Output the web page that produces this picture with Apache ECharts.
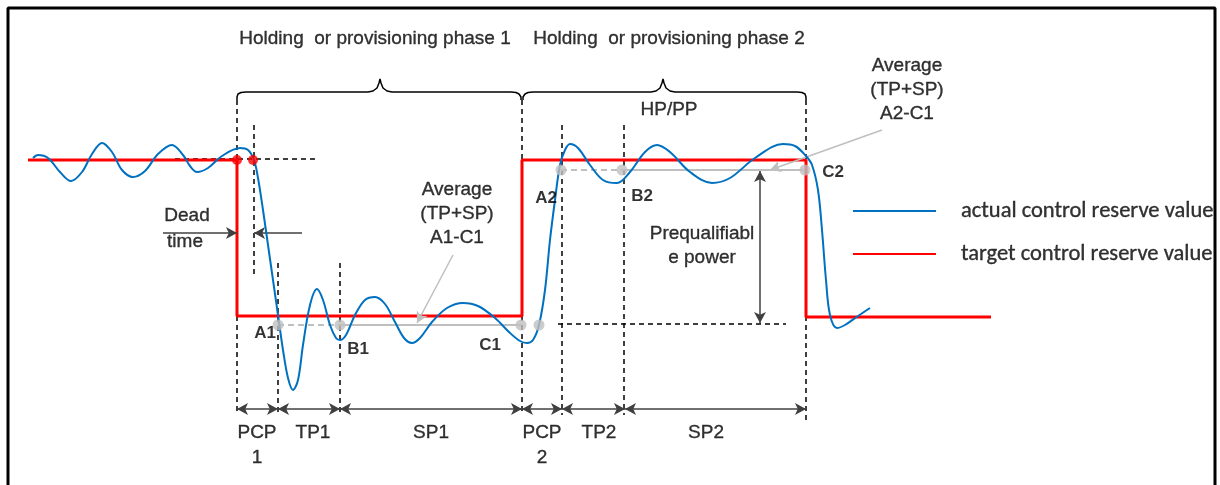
<!DOCTYPE html>
<html>
<head>
<meta charset="utf-8">
<script src="https://cdn.jsdelivr.net/npm/echarts@6/dist/echarts.min.js"></script>
<style>
html, body { margin: 0; padding: 0; background: #fff; }
#chart { width: 1220px; height: 485px; }
</style>
</head>
<body>
<div id="chart"></div>
<script>
// diagram units follow the figure: x to the right, y downwards (axis is inverted)
const actualValue = [
  [33, 158], [38, 155], [48, 158], [60, 172], [71, 181], [82, 172], [92, 154], [102, 143],
  [112, 152], [122, 170], [133, 177], [145, 171], [158, 154], [172, 145], [183, 155], [190, 166],
  [197, 172], [208, 168], [222, 156], [240, 148], [248, 150], [254, 160], [258, 178], [263, 210],
  [268, 245], [273, 280], [278, 315], [283, 350], [288, 378], [293, 390], [298, 380], [303, 345],
  [310, 305], [317, 289], [323, 300], [330, 325], [336, 338], [340, 340], [346, 335], [355, 315],
  [365, 300], [375, 297], [385, 304], [395, 322], [404, 338], [412, 343], [420, 338], [432, 322],
  [447, 308], [463, 303], [478, 306], [495, 318], [510, 333], [520, 341], [527, 343], [533, 340],
  [539, 325], [545, 290], [550, 240], [555, 200], [560, 165], [565, 150], [570, 144], [578, 148],
  [590, 165], [603, 180], [617, 183], [630, 172], [645, 152], [657, 145], [670, 152], [690, 172],
  [712, 183], [730, 178], [755, 158], [783, 144], [795, 146], [806, 156], [812, 165], [818, 190],
  [822, 230], [826, 280], [830, 315], [837, 328], [845, 325], [858, 316], [870, 308]
]
const targetValue = [[28, 160], [237, 160], [237, 316], [522, 316], [522, 160], [806, 160], [806, 317], [991, 317]]
const deadTimeDots = [[237, 160], [253, 160]]
const milestoneDots = [[278, 325], [340, 325], [521, 325], [539, 325], [561, 170], [622, 170], [805, 170]]
const averageDashed = [[[278, 325], [340, 325]], [[561, 170], [622, 170]]]
const averageSolid = [[[340, 325], [521, 325]], [[622, 170], [805, 170]]]
const guideLines = [
  [[237, 100], [237, 415]], [[254, 125], [254, 278]], [[278, 263], [278, 415]], [[340, 263], [340, 415]],
  [[522, 100], [522, 415]], [[562, 125], [562, 415]], [[624, 125], [624, 415]], [[806, 100], [806, 420]],
  [[175, 159], [317, 159]], [[558, 324], [786, 324]]
]
const braces = [
  [[237, 100], [237, 97], [238, 94], [241, 92.5], [246, 92], [368, 92], [373, 91], [377, 88], [379, 83], [380, 79],
    [381, 83], [383, 88], [387, 91], [392, 92], [511, 92], [516, 92.5], [519, 94], [521, 97], [521, 100]],
  [[523, 100], [523, 97], [525, 94], [528, 92.5], [533, 92], [651, 92], [656, 91], [660, 88], [662, 83], [663, 79],
    [664, 83], [666, 88], [670, 91], [675, 92], [797, 92], [802, 92.5], [805, 94], [806, 97], [806, 100]]
]
const periodBounds = [237, 278, 340, 522, 562, 625, 806]
const periodLabels = ['PCP\n1', 'TP1', 'SP1', 'PCP\n2', 'TP2', 'SP2']
const periodLabelX = [257, 313, 431, 542, 599, 706]
const deadTimeArrows = [[[163, 233], [237, 233]], [[302, 233], [254, 233]]]
const powerArrow = [[760, 171], [760, 323]]
const averageArrows = [[[453, 255], [417, 323]], [[882, 130], [770, 170]]]
const pointLabels = [['A1', 265, 333], ['B1', 358, 349], ['C1', 490, 345], ['A2', 546, 198], ['B2', 642, 196], ['C2', 833, 172]]
const notes = [
  ['Holding  or provisioning phase 1', 375, 39],
  ['Holding  or provisioning phase 2', 669, 39],
  ['HP/PP', 669, 110],
  ['Average\n(TP+SP)\nA1-C1', 457, 214],
  ['Average\n(TP+SP)\nA2-C1', 907, 90],
  ['Prequalifiabl\ne power', 702, 246],
  ['Dead', 187, 216],
  ['time', 185, 242]
]
const legendNames = ['actual control reserve value', 'target control reserve value']
const legendY = [211, 254]
const frame = [[[8, 485], [8, 8], [1215, 8], [1215, 485]]]

const BLUE = '#0070c0'
const RED = '#ff0000'
const GREY = '#bfbfbf'
const DARK = '#404040'

const chart = echarts.init(document.getElementById('chart'), null, { renderer: 'canvas' })

const series = []

function path(data, color, width, type, z) {
  series.push({
    type: 'line', data: data, symbol: 'none', silent: true, z: z || 2,
    lineStyle: { color: color, width: width, type: type || 'solid', cap: 'butt' }
  })
}

function arrows(pairs, color, width, both) {
  series.push({
    type: 'line', data: [], silent: true, z: 4,
    markLine: {
      silent: true, animation: false,
      symbol: both ? ['arrow', 'arrow'] : ['none', 'arrow'],
      symbolSize: [9, 11],
      label: { show: false },
      lineStyle: { color: color, width: width, type: 'solid' },
      emphasis: { disabled: true },
      data: pairs.map(p => [{ coord: p[0] }, { coord: p[1] }])
    }
  })
}

function texts(items, style, z) {
  series.push({
    type: 'scatter', symbolSize: 0, silent: true, z: z || 6,
    data: items.map(t => ({ value: [t[1], t[2]], name: t[0] })),
    label: Object.assign({
      show: true, position: 'inside', align: 'center', verticalAlign: 'middle',
      formatter: p => p.name, color: '#000', textBorderColor: '#000', textBorderWidth: 0.35
    }, style)
  })
}

// frame (on top, so the legend text runs under the right edge)
frame.forEach(f => path(f, '#000', 3, 'solid', 20))

// dashed guides and braces
guideLines.forEach(g => path(g, '#000', 1.5, [5, 4], 2))
braces.forEach(b => path(b, '#000', 1.5, 'solid', 2))

// target and actual values
path(targetValue, RED, 3, 'solid', 3)
series.push({
  type: 'line', data: actualValue, symbol: 'none', smooth: 0.35, silent: true, z: 5,
  lineStyle: { color: BLUE, width: 2 }
})

// averages
averageDashed.forEach(a => path(a, GREY, 2, [6, 4], 3))
averageSolid.forEach(a => path(a, GREY, 2, 'solid', 3))
series.push({
  type: 'scatter', data: milestoneDots, symbolSize: 11, silent: true, z: 6,
  itemStyle: { color: GREY }
})
series.push({
  type: 'scatter', data: deadTimeDots, symbolSize: 10, silent: true, z: 6,
  itemStyle: { color: RED }
})

// arrows
const periodPairs = []
for (let i = 0; i < periodBounds.length - 1; i++) {
  periodPairs.push([[periodBounds[i], 409], [periodBounds[i + 1], 409]])
}
arrows(periodPairs, DARK, 1.5, true)
arrows(deadTimeArrows, DARK, 1.5, false)
arrows([powerArrow], DARK, 1.5, true)
arrows(averageArrows, GREY, 1.5, false)

// legend
legendY.forEach((y, i) => path([[853, y], [936, y]], i === 0 ? BLUE : RED, 2, 'solid', 3))
texts(legendNames.map((n, i) => [n, 961, legendY[i]]),
  { align: 'left', fontFamily: 'Carlito, Lato, sans-serif', fontSize: 22.5 })

// text
texts(notes, { fontFamily: 'Liberation Sans, Arial, sans-serif', fontSize: 19, lineHeight: 24 })
texts(pointLabels, { fontFamily: 'Liberation Sans, Arial, sans-serif', fontSize: 17, fontWeight: 'bold', textBorderWidth: 0 })
texts(periodLabels.map((l, i) => [l, periodLabelX[i], l.indexOf('\n') > 0 ? 445 : 433]),
  { fontFamily: 'Liberation Sans, Arial, sans-serif', fontSize: 19, lineHeight: 25 })

chart.setOption({
  animation: false,
  backgroundColor: '#fff',
  grid: { left: 0, right: 0, top: 0, bottom: 0 },
  xAxis: { type: 'value', min: 0, max: 1220, show: false },
  yAxis: { type: 'value', min: 0, max: 485, inverse: true, show: false },
  series: series
})
</script>
</body>
</html>
